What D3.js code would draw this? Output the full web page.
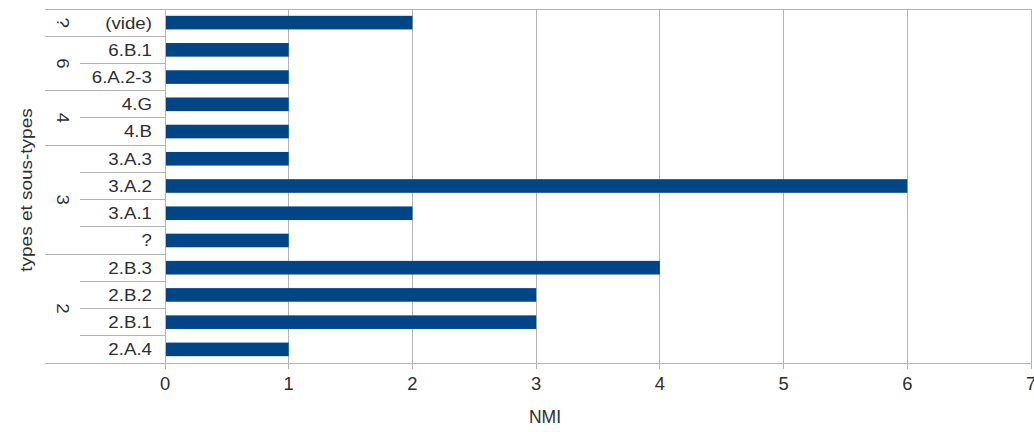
<!DOCTYPE html>
<html><head><meta charset="utf-8">
<script src="https://cdn.jsdelivr.net/npm/d3@7"></script>
<style>body{margin:0;background:#fff}svg{display:block}</style>
</head><body><svg id="c" width="1034" height="432"></svg>
<script>
const categories = ["(vide)","6.B.1","6.A.2-3","4.G","4.B","3.A.3","3.A.2","3.A.1","?","2.B.3","2.B.2","2.B.1","2.A.4"];
const values = [2,1,1,1,1,1,6,2,1,4,3,3,1];
const groups = ["?","6","4","3","2"];
const groupSizes = [1,2,2,4,4];
const xTicks = [0,1,2,3,4,5,6,7];
const xTitle = "NMI";
const yTitle = "types et sous-types";

const svg = d3.select("#c");
const L = 165, R = 1031, T = 9, B = 363;
const x = d3.scaleLinear().domain([0,7]).range([L,R]);
const y = d3.scaleBand().domain(categories).range([T,B]).paddingInner(0.5).paddingOuter(0.25);
const step = y.step();
const grid = "#b3b3b3", txt = "#2e2e2e", font = "Liberation Sans, Arial, sans-serif";

function label(g, px, py, s, opts) {
  const o = Object.assign({size:17, anchor:"middle", rot:0, sx:1.1}, opts||{});
  g.append("text")
    .attr("transform", `translate(${px},${py}) rotate(${o.rot}) scale(${o.sx},1)`)
    .attr("text-anchor", o.anchor).attr("dy","0.35em")
    .attr("font-family", font).attr("font-size", o.size).attr("fill", txt)
    .text(s);
}

// gridlines + ticks
svg.append("g").selectAll("line").data(xTicks).join("line")
  .attr("x1", d=>x(d)).attr("x2", d=>x(d)).attr("y1", T).attr("y2", B+6)
  .attr("stroke", grid).attr("stroke-width", 1).attr("shape-rendering","crispEdges");

// bars
svg.append("g").selectAll("rect").data(categories).join("rect")
  .attr("x", x(0)).attr("y", d=>y(d))
  .attr("width", (d,i)=>x(values[i])-x(0)).attr("height", y.bandwidth())
  .attr("fill", "#004586");

// hierarchy separators
const bounds = d3.range(categories.length+1);
const gEdges = new Set([0]); let acc=0;
groupSizes.forEach(n=>{acc+=n; gEdges.add(acc);});
svg.append("g").selectAll("line").data(bounds).join("line")
  .attr("x1", i=> gEdges.has(i) ? 45 : 80)
  .attr("x2", i=> (i===0||i===categories.length) ? R : L)
  .attr("y1", i=>T + i*step).attr("y2", i=>T + i*step)
  .attr("stroke", grid).attr("stroke-width",1).attr("shape-rendering","crispEdges");
svg.append("line").attr("x1",L).attr("x2",L).attr("y1",T).attr("y2",B)
  .attr("stroke", grid).attr("shape-rendering","crispEdges");

const tg = svg.append("g");
categories.forEach(c=> label(tg, 152, y(c)+y.bandwidth()/2, c, {anchor:"end"}));
acc = 0;
groups.forEach((g,i)=>{
  const c = T + (acc + groupSizes[i]/2)*step; acc += groupSizes[i];
  label(tg, 63, c, g, {rot:90});
});
xTicks.forEach(t=> label(tg, x(t), 384, String(t), {size:17.5, sx:1.05}));
label(tg, 545, 417, xTitle, {size:17.5, sx:1.0});
label(tg, 26, 190, yTitle, {size:16.5, rot:-90, sx:1.15});
</script></body></html>
